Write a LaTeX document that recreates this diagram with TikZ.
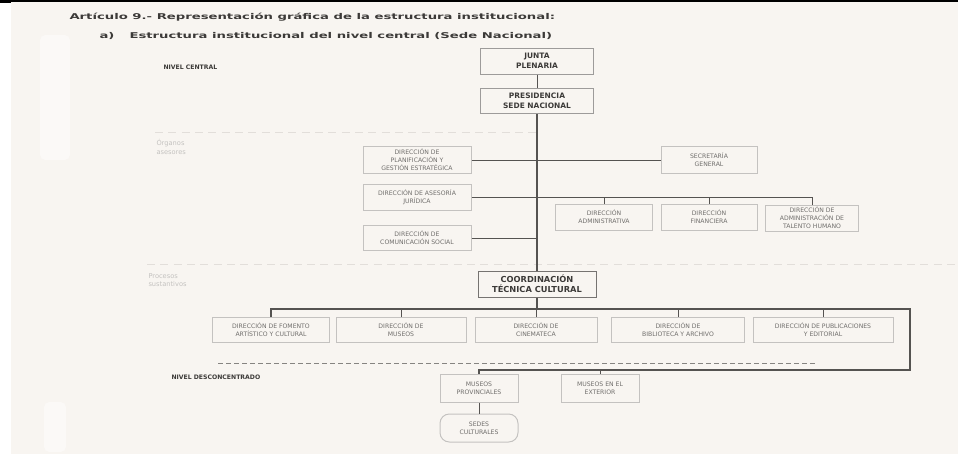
\documentclass[tikz,border=0pt]{standalone}
\usepackage{fontspec}
\setmainfont{DejaVu Sans}
\newfontfamily\titlefont{DejaVu Sans}[FakeStretch=1.65]

\definecolor{paper}{RGB}{248,245,241}
\definecolor{boxline}{RGB}{196,194,192}
\definecolor{boxtext}{RGB}{112,110,108}
\definecolor{maintext}{RGB}{60,58,56}
\definecolor{linecol}{RGB}{85,83,81}
\definecolor{faint}{RGB}{226,222,218}

\tikzset{every picture/.style={line width=0.75pt}}
\tikzset{
  box/.style={draw=boxline, fill=paper, inner sep=0.75pt, align=center, text=boxtext, font=\fontsize{4.6}{6}\selectfont},
  mainbox/.style={box, draw=boxline!80!black, text=maintext, font=\fontsize{5.6}{7.5}\selectfont\bfseries},
  link/.style={draw=linecol, line width=0.75pt},
  trunk/.style={draw=linecol, line width=1.1pt},
  levellabel/.style={anchor=west, inner sep=0.75pt, text=maintext, font=\fontsize{4.6}{6}\selectfont\bfseries},
  sidelabel/.style={anchor=west, inner sep=0.75pt, align=left, text=boxline, font=\fontsize{5}{6.2}\selectfont},
}

\begin{document}
\begin{tikzpicture}[x=0.75pt,y=0.75pt,yscale=-1,xscale=1]
	\path[use as bounding box] (0,0) rectangle (958,454);
	%page and scan edges
	\fill [white] (0,0) rectangle (958,454);
	\fill [paper] (11,2) rectangle (958,454);
	\fill [white!45!paper, rounded corners=4] (40,35) rectangle (70,160);
	\fill [white!45!paper, rounded corners=4] (44,402) rectangle (66,452);
	\fill [black] (0,0) rectangle (958,1.8);
	\fill [black] (0,0) rectangle (11,3);

	%title
	\draw (68,17) node (titulo) [anchor=west][inner sep=0.75pt][text=maintext][font=\titlefont\fontsize{6}{7}\selectfont\bfseries] {Artículo 9.- Representación gráfica de la estructura institucional:};
	\draw (98,36) node (inciso) [anchor=west][inner sep=0.75pt][text=maintext][font=\titlefont\fontsize{6}{7}\selectfont\bfseries] {a)};
	\draw (128,36) node (subtitulo) [anchor=west][inner sep=0.75pt][text=maintext][font=\titlefont\fontsize{6}{7}\selectfont\bfseries] {Estructura institucional del nivel central (Sede Nacional)};

	%level separators
	\draw [faint, dash pattern={on 6pt off 4pt}] (155,132) -- (540,132);
	\draw [faint, dash pattern={on 6pt off 4pt}] (147,264) -- (958,264);
	\draw [linecol!70!paper, dash pattern={on 4pt off 2pt}] (218,363) -- (815,363);

	%level labels
	\draw (162,67) node (ncentral) [levellabel] {NIVEL CENTRAL};
	\draw (155,147) node (asesores) [sidelabel] {Órganos\\asesores};
	\draw (147,280) node (sustantivos) [sidelabel] {Procesos\\sustantivos};
	\draw (170,377) node (ndescon) [levellabel] {NIVEL DESCONCENTRADO};

	%boxes, central level
	\draw (537,61) node (junta) [mainbox, minimum width=84.75pt, minimum height=19.5pt] {JUNTA\\PLENARIA};
	\draw (537,101) node (pres) [mainbox, minimum width=84.75pt, minimum height=18.75pt] {PRESIDENCIA\\SEDE NACIONAL};
	\draw (417,160) node (plan) [box, minimum width=81pt, minimum height=20.25pt] {DIRECCIÓN DE\\PLANIFICACIÓN Y\\GESTIÓN ESTRATÉGICA};
	\draw (709,160) node (secret) [box, minimum width=72pt, minimum height=20.25pt] {SECRETARÍA\\GENERAL};
	\draw (417,197) node (asesoria) [box, minimum width=81pt, minimum height=19.5pt] {DIRECCIÓN DE ASESORÍA\\JURÍDICA};
	\draw (417,238) node (comunic) [box, minimum width=81pt, minimum height=18.75pt] {DIRECCIÓN DE\\COMUNICACIÓN SOCIAL};
	\draw (604,217) node (admin) [box, minimum width=72.75pt, minimum height=19.5pt] {DIRECCIÓN\\ADMINISTRATIVA};
	\draw (709,217) node (finan) [box, minimum width=72pt, minimum height=19.5pt] {DIRECCIÓN\\FINANCIERA};
	\draw (812,218) node (talento) [box, minimum width=69.75pt, minimum height=19.5pt] {DIRECCIÓN DE\\ADMINISTRACIÓN DE\\TALENTO HUMANO};

	%boxes, substantive processes
	\draw (537,284) node (coord) [mainbox, draw=linecol!80!paper, minimum width=88.5pt, minimum height=19.5pt, font=\fontsize{6.2}{7.2}\selectfont\bfseries] {COORDINACIÓN\\TÉCNICA CULTURAL};
	\draw (271,330) node (fomento) [box, minimum width=87.75pt, minimum height=18.75pt] {DIRECCIÓN DE FOMENTO\\ARTÍSTICO Y CULTURAL};
	\draw (401,330) node (museos) [box, minimum width=97.5pt, minimum height=18.75pt] {DIRECCIÓN DE\\MUSEOS};
	\draw (536,330) node (cine) [box, minimum width=91.5pt, minimum height=18.75pt] {DIRECCIÓN DE\\CINEMATECA};
	\draw (678,330) node (biblio) [box, minimum width=99.75pt, minimum height=18.75pt] {DIRECCIÓN DE\\BIBLIOTECA Y ARCHIVO};
	\draw (823,330) node (public) [box, minimum width=105pt, minimum height=18.75pt] {DIRECCIÓN DE PUBLICACIONES\\Y EDITORIAL};

	%boxes, deconcentrated level
	\draw (479,388) node (prov) [box, minimum width=58.5pt, minimum height=21pt] {MUSEOS\\PROVINCIALES};
	\draw (600,388) node (exterior) [box, minimum width=58.5pt, minimum height=21pt] {MUSEOS EN EL\\EXTERIOR};
	\draw (479,428) node (sedes) [box, rounded corners=7pt, minimum width=58.5pt, minimum height=21pt] {SEDES\\CULTURALES};

	%bus corners
	\coordinate (rtop) at (910,309);
	\coordinate (rbot) at (910,370);

	%connectors
	\draw [link] (junta) -- (pres);
	\draw [trunk] (pres) -- (coord);
	\draw [link] (plan) -- (secret);
	\draw [link] (asesoria) -- (talento |- asesoria) -- (talento);
	\draw [link] (admin) -- (admin |- asesoria);
	\draw [link] (finan) -- (finan |- asesoria);
	\draw [link] (comunic) -- (comunic -| pres);
	\draw [trunk] (coord) -- (coord |- rtop);
	\draw [trunk] (fomento) |- (rtop) -- (rbot) -| (prov);
	\draw [link] (museos) -- (museos |- rtop);
	\draw [link] (cine) -- (cine |- rtop);
	\draw [link] (biblio) -- (biblio |- rtop);
	\draw [link] (public) -- (public |- rtop);
	\draw [link] (exterior) -- (exterior |- rbot);
	\draw [link] (prov) -- (sedes);
\end{tikzpicture}
\end{document}
